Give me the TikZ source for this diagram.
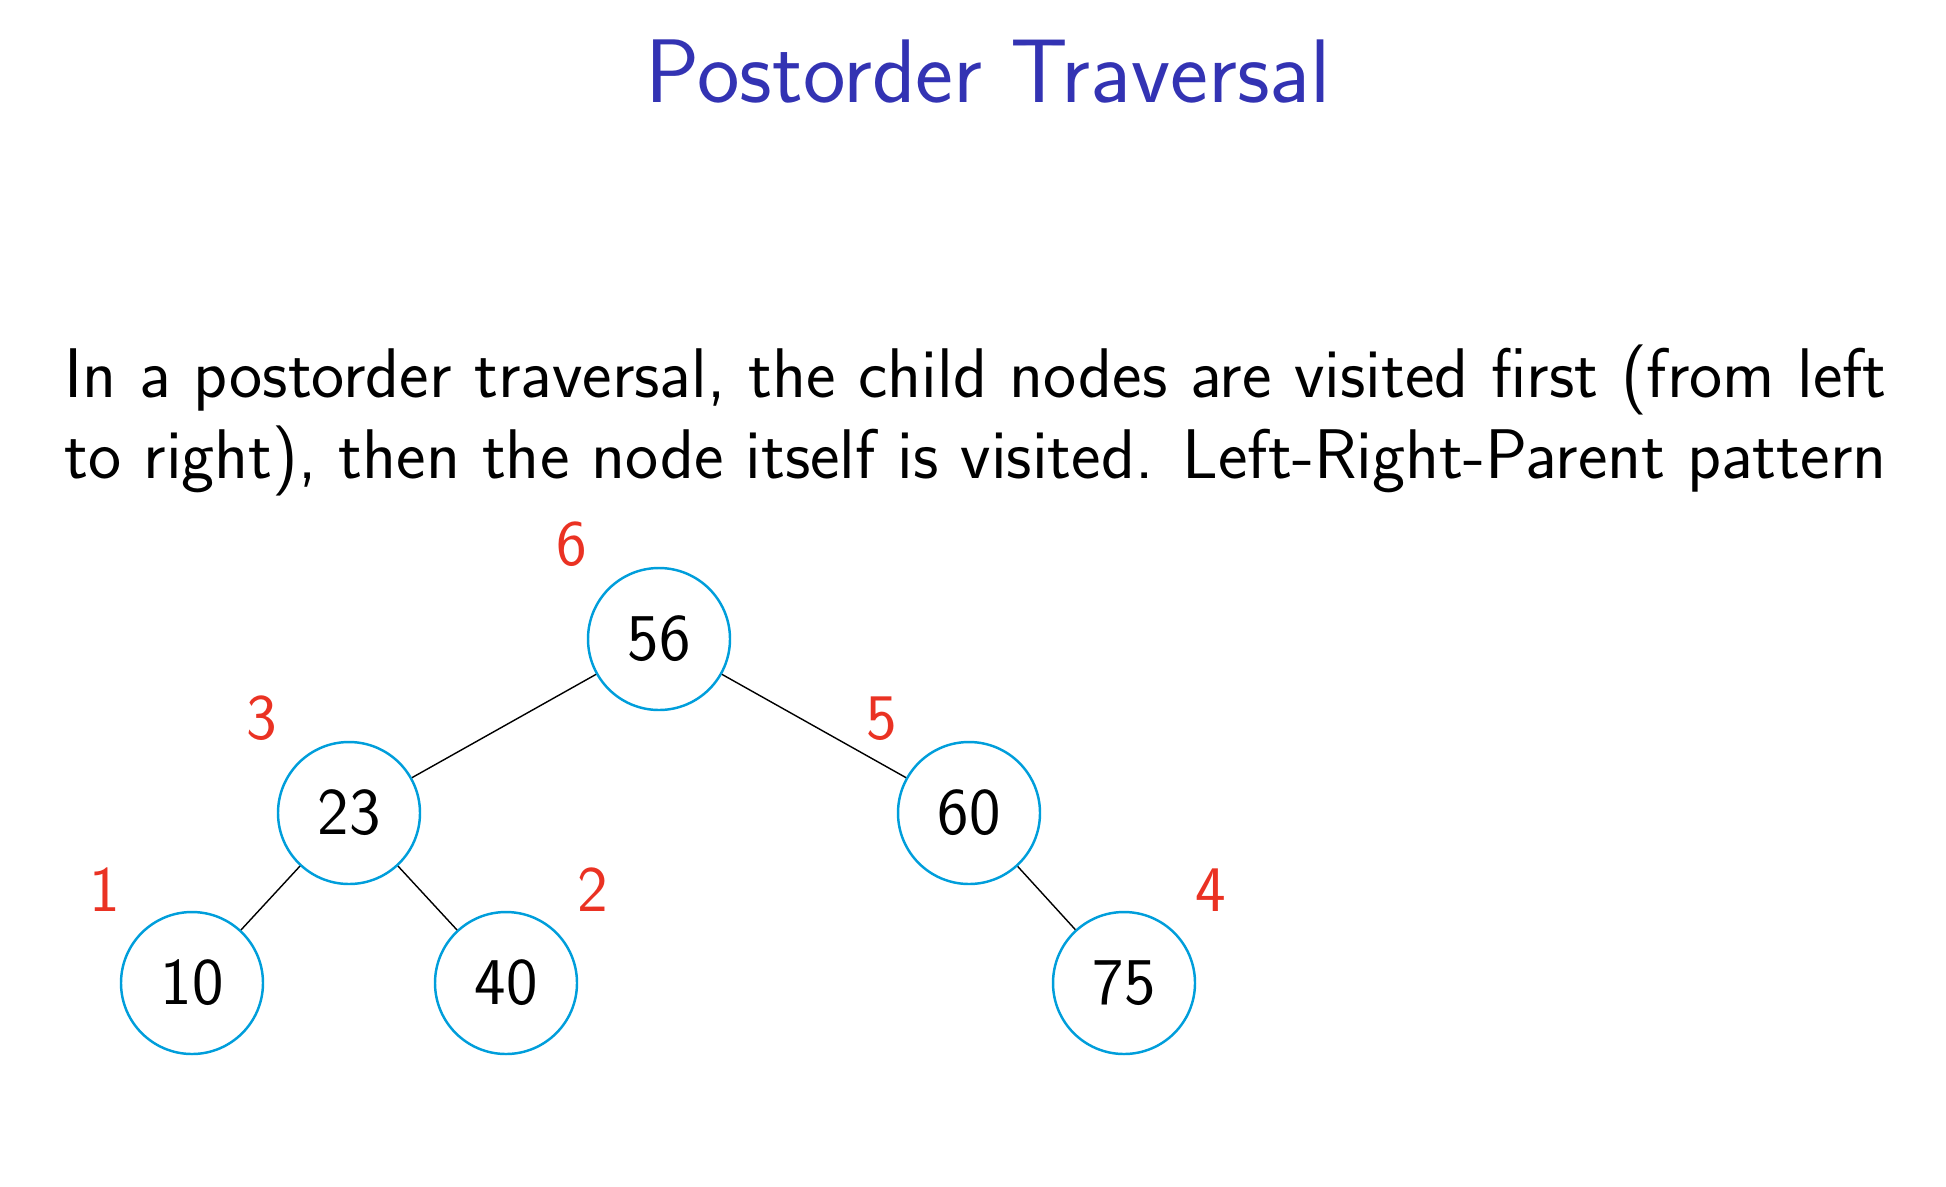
\documentclass[tikz,border=0pt]{standalone}
\usepackage{fontspec}
\usetikzlibrary{positioning}
\definecolor{titleblue}{RGB}{51,51,179}
\definecolor{nodecyan}{RGB}{0,158,219}
\definecolor{numred}{RGB}{234,50,35}

\begin{document}
\begin{tikzpicture}[on grid, every node/.style={font=\sffamily},
    treenode/.style={circle, draw=nodecyan, line width=0.7pt, minimum size=1.42cm, inner sep=0pt, font=\sffamily\fontsize{19}{23}\selectfont},
    visit/.style={text=numred, label distance=1.2mm, font=\sffamily\fontsize{18.5}{22}\selectfont}]
    \useasboundingbox (0,0) rectangle (19.46,-11.86);
    \node[text=titleblue, anchor=base, font=\sffamily\fontsize{25.7}{31}\selectfont] (title) at (9.88,-1.02) {Postorder Traversal};
    \node[text width=18.22cm, align=justify, inner sep=0pt, anchor=north west, font=\sffamily\fontsize{20}{23.2}\selectfont] (intro) at (0.64,-3.44)
        {In a postorder traversal, the child nodes are visited first (from left to right), then the node itself is visited. Left-Right-Parent pattern};

    \node[treenode, label={[visit]135:6}] (n56) at (6.59,-6.39) {56};
    \node[treenode, label={[visit]135:3}, below left=1.74cm and 3.10cm of n56] (n23) {23};
    \node[treenode, label={[visit]135:5}, below right=1.74cm and 3.10cm of n56] (n60) {60};
    \node[treenode, label={[visit]135:1}, below left=1.70cm and 1.57cm of n23] (n10) {10};
    \node[treenode, label={[visit]45:2}, below right=1.70cm and 1.57cm of n23] (n40) {40};
    \node[treenode, label={[visit]45:4}, below right=1.70cm and 1.55cm of n60] (n75) {75};

    \draw (n56) -- (n23);
    \draw (n56) -- (n60);
    \draw (n23) -- (n10);
    \draw (n23) -- (n40);
    \draw (n60) -- (n75);
\end{tikzpicture}
\end{document}
